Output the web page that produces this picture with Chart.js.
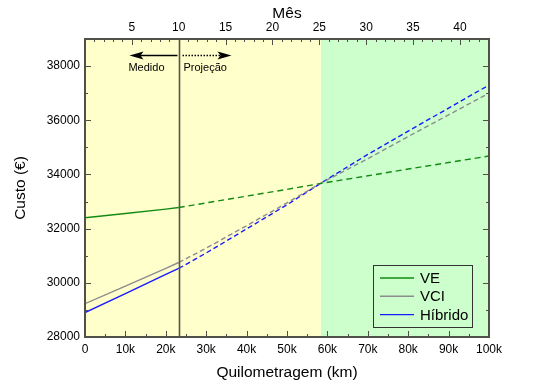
<!DOCTYPE html>
<html>
<head>
<meta charset="utf-8">
<script src="https://cdn.jsdelivr.net/npm/chart.js@4"></script>
<style>
  html, body { margin: 0; padding: 0; background: #ffffff; }
  #wrap { width: 536px; height: 385px; }
</style>
</head>
<body>
<div id="wrap"><canvas id="custoChart"></canvas></div>
<script>
// data
const km = [0, 10000, 20000, 23200, 30000, 40000, 50000, 58400, 70000, 80000, 90000, 100000];
const custoVE = [32400, 32560, 32720, 32780, 32950, 33200, 33450, 33670, 33950, 34200, 34440, 34680];
const custoVCI = [29230, 29880, 30530, 30750, 31280, 32110, 32950, 33680, 34580, 35400, 36200, 37000];
const custoHibrido = [28900, 29600, 30310, 30530, 31100, 31990, 32880, 33680, 34740, 35600, 36450, 37300];

const seriesNames = ['VE', 'VCI', 'Híbrido'];
const seriesColors = ['#138a13', '#8c8c8c', '#1a1aff'];

const kmTicks = [0, 10000, 20000, 30000, 40000, 50000, 60000, 70000, 80000, 90000, 100000];
const kmTickLabels = ['0', '10k', '20k', '30k', '40k', '50k', '60k', '70k', '80k', '90k', '100k'];
const monthTicks = [5, 10, 15, 20, 25, 30, 35, 40];
const custoTicks = [28000, 30000, 32000, 34000, 36000, 38000];

const kmPerMonth = 2320;       // 10 meses = 23.2k km
const measuredKm = 23200;      // fim da parte medida
const crossKm = 58400;         // início da zona verde

const FONT = "'Liberation Sans', Arial, sans-serif";
const FRAME = '#505048';

function toPoints(values) {
  return km.map((x, i) => ({ x: x, y: values[i] }));
}

function makeDataset(name, values, color, dash) {
  return {
    label: name,
    data: toPoints(values),
    borderColor: color,
    borderWidth: 1.4,
    pointRadius: 0,
    tension: 0,
    fill: false,
    segment: {
      borderDash: ctx => ctx.p0.parsed.x >= measuredKm ? dash : undefined,
    },
  };
}

const decorPlugin = {
  id: 'decor',
  beforeDatasetsDraw(chart) {
    const { ctx, chartArea: a, scales } = chart;
    const xs = scales.x;
    const xCross = xs.getPixelForValue(crossKm);
    ctx.save();
    ctx.fillStyle = '#ffffcc';
    ctx.fillRect(a.left, a.top, xCross - a.left, a.bottom - a.top);
    ctx.fillStyle = '#ccffcc';
    ctx.fillRect(xCross, a.top, a.right - xCross, a.bottom - a.top);
    ctx.restore();
  },
  afterDatasetsDraw(chart) {
    const { ctx, chartArea: a, scales } = chart;
    const xs = scales.x, xt = scales.x2, ys = scales.y;
    ctx.save();

    // vertical line: medido / projeção
    const xm = Math.round(xs.getPixelForValue(measuredKm)) + 0.5;
    ctx.strokeStyle = '#55554a';
    ctx.lineWidth = 1.6;
    ctx.beginPath();
    ctx.moveTo(xm, a.top);
    ctx.lineTo(xm, a.bottom);
    ctx.stroke();

    // arrows
    const ay = 55.5;
    ctx.fillStyle = '#000';
    ctx.strokeStyle = '#000';
    ctx.lineWidth = 1.3;
    ctx.beginPath();
    ctx.moveTo(xm - 2, ay);
    ctx.lineTo(xm - 40, ay);
    ctx.stroke();
    ctx.beginPath();
    ctx.moveTo(xm - 50, ay);
    ctx.lineTo(xm - 36, ay - 4);
    ctx.lineTo(xm - 39, ay);
    ctx.lineTo(xm - 36, ay + 4);
    ctx.closePath();
    ctx.fill();

    ctx.setLineDash([1.5, 1.5]);
    ctx.beginPath();
    ctx.moveTo(xm + 3, ay);
    ctx.lineTo(xm + 42, ay);
    ctx.stroke();
    ctx.setLineDash([]);
    ctx.beginPath();
    ctx.moveTo(xm + 52, ay);
    ctx.lineTo(xm + 38, ay - 4);
    ctx.lineTo(xm + 41, ay);
    ctx.lineTo(xm + 38, ay + 4);
    ctx.closePath();
    ctx.fill();

    ctx.font = '11px ' + FONT;
    ctx.textBaseline = 'middle';
    ctx.textAlign = 'center';
    ctx.fillText('Medido', xm - 33, 68);
    ctx.textAlign = 'left';
    ctx.fillText('Projeção', xm + 4, 68);

    // frame
    ctx.strokeStyle = FRAME;
    ctx.lineWidth = 2;
    ctx.strokeRect(a.left, a.top, a.right - a.left, a.bottom - a.top);

    // inward ticks
    ctx.lineWidth = 1;
    ctx.strokeStyle = FRAME;
    ctx.beginPath();
    for (let v = 5000; v < 100000; v += 5000) {
      const px = Math.round(xs.getPixelForValue(v)) + 0.5;
      const len = v % 10000 === 0 ? 6 : 3;
      ctx.moveTo(px, a.bottom);
      ctx.lineTo(px, a.bottom - len);
    }
    for (let m = 1; m <= xt.max; m += 1) {
      const px = Math.round(xt.getPixelForValue(m)) + 0.5;
      const len = m % 5 === 0 ? 6 : 3;
      ctx.moveTo(px, a.top);
      ctx.lineTo(px, a.top + len);
    }
    for (let v = 29000; v < ys.max; v += 1000) {
      const py = Math.round(ys.getPixelForValue(v)) + 0.5;
      const len = v % 2000 === 0 ? 6 : 3;
      ctx.moveTo(a.left, py);
      ctx.lineTo(a.left + len, py);
      ctx.moveTo(a.right, py);
      ctx.lineTo(a.right - len, py);
    }
    ctx.stroke();

    // legend box
    const lx = 373, ly = 265, lw = 99, lh = 62;
    ctx.strokeStyle = '#333';
    ctx.lineWidth = 1;
    ctx.strokeRect(lx + 0.5, ly + 0.5, lw, lh);
    ctx.font = '15px ' + FONT;
    ctx.textAlign = 'left';
    ctx.textBaseline = 'middle';
    chart.data.datasets.forEach((ds, i) => {
      const yy = ly + 13 + i * 18.3;
      ctx.strokeStyle = ds.borderColor;
      ctx.lineWidth = 1.4;
      ctx.beginPath();
      ctx.moveTo(lx + 7, yy);
      ctx.lineTo(lx + 41, yy);
      ctx.stroke();
      ctx.fillStyle = '#000';
      ctx.fillText(ds.label, lx + 47, yy + 1);
    });
    ctx.restore();
  },
};

document.addEventListener('DOMContentLoaded', function () {
  const ctx = document.getElementById('custoChart').getContext('2d');

  let custoChart = new Chart(ctx, {
    type: 'line',
    data: {
      datasets: [
        makeDataset(seriesNames[0], custoVE, seriesColors[0], [6, 4]),
        makeDataset(seriesNames[1], custoVCI, seriesColors[1], [5, 3]),
        makeDataset(seriesNames[2], custoHibrido, seriesColors[2], [5, 3]),
      ],
    },
    options: {
      animation: false,
      responsive: true,
      maintainAspectRatio: false,
      layout: {
        padding: { left: 0, right: 47, top: 0, bottom: 0 },
      },
      plugins: {
        legend: { display: false },
        tooltip: { enabled: false },
      },
      scales: {
        x: {
          type: 'linear',
          position: 'bottom',
          min: 0,
          max: 100000,
          afterBuildTicks: s => { s.ticks = kmTicks.map(v => ({ value: v })); },
          afterFit: s => { s.height = 48; },
          grid: { display: false, drawTicks: false },
          border: { display: false },
          ticks: {
            padding: 5,
            maxRotation: 0,
            color: '#000',
            font: { family: FONT, size: 12 },
            callback: (v, i) => kmTickLabels[i],
          },
          title: {
            display: true,
            text: 'Quilometragem (km)',
            color: '#000',
            font: { family: FONT, size: 15.5 },
            padding: { top: 0, bottom: 3 },
          },
        },
        x2: {
          type: 'linear',
          position: 'top',
          display: true,
          min: 0,
          max: 100000 / kmPerMonth,
          afterBuildTicks: s => { s.ticks = monthTicks.map(v => ({ value: v })); },
          afterFit: s => { s.height = 39; },
          grid: { display: false, drawTicks: false },
          border: { display: false },
          ticks: {
            padding: 4,
            maxRotation: 0,
            color: '#000',
            font: { family: FONT, size: 12 },
            callback: v => String(v),
          },
          title: {
            display: true,
            text: 'Mês',
            color: '#000',
            font: { family: FONT, size: 15.5 },
            padding: { top: 4, bottom: 0 },
          },
        },
        y: {
          min: 28000,
          max: 39000,
          afterBuildTicks: s => { s.ticks = custoTicks.map(v => ({ value: v })); },
          afterFit: s => { s.width = 85; },
          grid: { display: false, drawTicks: false },
          border: { display: false },
          ticks: {
            padding: 5,
            color: '#000',
            font: { family: FONT, size: 12 },
            callback: v => String(v),
          },
          title: {
            display: true,
            text: 'Custo (€)',
            color: '#000',
            font: { family: FONT, size: 15.5 },
            padding: { top: 11, bottom: 0 },
          },
        },
      },
    },
    plugins: [decorPlugin],
  });
});
</script>
</body>
</html>
